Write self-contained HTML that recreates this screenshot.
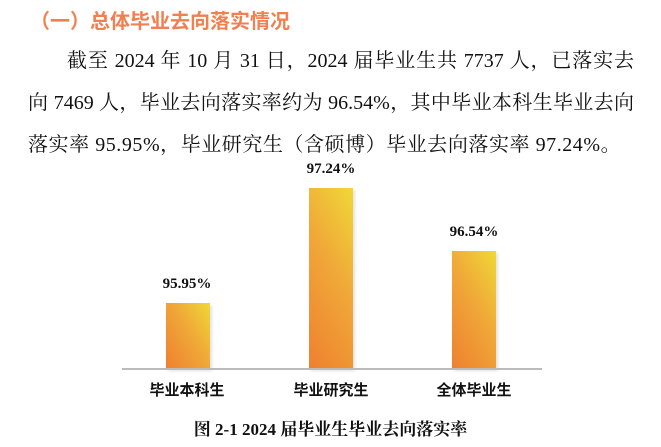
<!DOCTYPE html>
<html><head><meta charset="utf-8"><style>
body{margin:0;width:661px;height:447px;background:#fff;position:relative;overflow:hidden;font-family:"Liberation Serif","Noto Serif CJK SC",serif;color:#111}
.a{position:absolute;white-space:nowrap}
.h{left:30px;top:5px;font-size:20px;font-weight:bold;color:#f08050;font-family:"Liberation Sans","Noto Sans CJK SC",sans-serif}
.l{font-size:20px;text-align:justify;text-align-last:justify}
.bar{position:absolute;width:44px;background:linear-gradient(60deg,#ee8030 0%,#f0a838 55%,#f0d838 100%);box-shadow:2px 2px 3px rgba(0,0,0,.12)}
.v{position:absolute;font-weight:bold;font-size:15px;width:80px;text-align:center}
.x{position:absolute;font-weight:bold;font-size:15px;width:100px;text-align:center;font-family:"Liberation Sans","Noto Sans CJK SC",sans-serif}
</style></head><body>
<div class="a h">（一）总体毕业去向落实情况</div>
<div class="a l" style="left:67px;top:44px;width:567px">截至 2024 年 10 月 31 日，2024 届毕业生共 7737 人，已落实去</div>
<div class="a l" style="left:28px;top:86px;width:606px">向 7469 人，毕业去向落实率约为 96.54%，其中毕业本科生毕业去向</div>
<div class="a" style="left:28px;top:128px;font-size:20px;letter-spacing:0.55px">落实率 95.95%，毕业研究生（含硕博）毕业去向落实率 97.24%。</div>
<div class="bar" style="left:166px;top:303px;height:66px"></div>
<div class="bar" style="left:309px;top:188px;height:181px"></div>
<div class="bar" style="left:452px;top:251px;height:118px"></div>
<div class="a" style="left:122px;top:368px;width:420px;height:2px;background:#bbb"></div>
<div class="v" style="left:147px;top:276px">95.95%</div>
<div class="v" style="left:291px;top:161px">97.24%</div>
<div class="v" style="left:434px;top:224px">96.54%</div>
<div class="x" style="left:137px;top:379px">毕业本科生</div>
<div class="x" style="left:281px;top:379px">毕业研究生</div>
<div class="x" style="left:424px;top:379px">全体毕业生</div>
<div class="a" style="left:0;width:661px;text-align:center;top:415px;font-weight:bold;font-size:17px">图 2-1 2024 届毕业生毕业去向落实率</div>
</body></html>
